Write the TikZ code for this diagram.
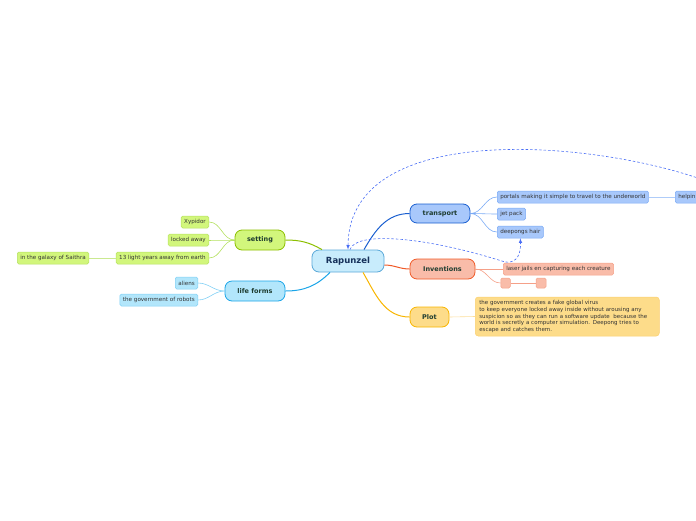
\documentclass[tikz,border=0pt]{standalone}
\usepackage{fontspec}
\setmainfont{DejaVu Sans}

\definecolor{rootfill}{HTML}{C8ECFC}
\definecolor{rootline}{HTML}{5AA8D8}
\definecolor{rootText}{HTML}{15305A}
\definecolor{topicText}{HTML}{1E3C30}
\definecolor{subText}{HTML}{333333}
\definecolor{transFill}{HTML}{A8C8FB}
\definecolor{transLine}{HTML}{1A5FD0}
\definecolor{transTwig}{HTML}{7AAAF5}
\definecolor{invFill}{HTML}{F9BCA9}
\definecolor{invLine}{HTML}{F05A28}
\definecolor{invTwig}{HTML}{F5A088}
\definecolor{plotFill}{HTML}{FDDC8A}
\definecolor{plotLine}{HTML}{F8B500}
\definecolor{plotTwig}{HTML}{FBD070}
\definecolor{setFill}{HTML}{D2F67C}
\definecolor{setLine}{HTML}{8CBF00}
\definecolor{setTwig}{HTML}{B4E060}
\definecolor{lifeFill}{HTML}{B2E6FB}
\definecolor{lifeLine}{HTML}{1AA5E8}
\definecolor{lifeTwig}{HTML}{80D0F5}
\definecolor{relLine}{HTML}{4A6EF5}

\begin{document}
\begin{tikzpicture}[>=latex,x=1pt,y=-1pt,
  topic/.style={draw,line width=.8pt,rounded corners=7pt,inner sep=0pt,
    font=\fontsize{6.5}{7}\selectfont\bfseries,text=topicText,minimum height=20pt},
  sub/.style={draw,line width=.5pt,rounded corners=1.5pt,inner xsep=3pt,inner ysep=0pt,
    font=\fontsize{5.6}{6}\selectfont,text=subText,minimum height=12pt},
  branch/.style={line width=1pt},
  twig/.style={line width=.6pt},
  relation/.style={relLine,line width=.6pt,dash pattern=on 2.5pt off 2pt}]
\useasboundingbox (0,0) rectangle (696,520);
\clip (0,0) rectangle (696,520);

\node[topic,fill=rootfill,draw=rootline,text=rootText,minimum width=72pt,minimum height=22pt,
  font=\fontsize{8.5}{9}\selectfont\bfseries] at (348,261) (Rapunzel) {Rapunzel};

\node[topic,fill=transFill,draw=transLine,minimum width=60pt,minimum height=19pt] at (440,213.5) (transport) {transport};
\node[topic,fill=invFill,draw=invLine,minimum width=65pt] at (442.5,269) (inventions) {Inventions};
\node[topic,fill=plotFill,draw=plotLine,minimum width=39pt] at (429.5,317) (plot) {Plot};
\node[topic,fill=setFill,draw=setLine,minimum width=50pt] at (260,240) (setting) {setting};
\node[topic,fill=lifeFill,draw=lifeLine,minimum width=60pt] at (255,291) (lifeforms) {life forms};

\node[sub,fill=transFill,draw=transTwig,anchor=west] at (497,197) (portals) {portals making it simple to travel to the underworld};
\node[sub,fill=transFill,draw=transTwig,anchor=west,minimum width=60pt,align=left,text width=54pt] at (675,197) (helpin) {helpin};
\node[sub,fill=transFill,draw=transTwig,anchor=west] at (497,214) (jetpack) {jet pack};
\node[sub,fill=transFill,draw=transTwig,anchor=west] at (497,232) (deepongs) {deepongs hair};

\node[sub,fill=invFill,draw=invTwig,anchor=west] at (503,269) (laser) {laser jails en capturing each creature};
\node[sub,fill=invFill,draw=invTwig,minimum width=9.5pt,minimum height=10pt] at (505.5,283) (blankA) {};
\node[sub,fill=invFill,draw=invTwig,minimum width=10pt,minimum height=10pt] at (541,283) (blankB) {};

\node[sub,fill=plotFill,draw=plotTwig,anchor=west,rounded corners=3pt,align=left,text width=176pt,
  inner xsep=4pt,minimum height=39pt,font=\fontsize{5.5}{6.7}\selectfont] at (475,316.5) (plotText)
  {the government creates a fake global virus\\
   to keep everyone locked away inside without arousing any\\
   suspicion so as they can run a software update\ \ because the\\
   world is secretly a computer simulation. Deepong tries to\\
   escape and catches them.};

\node[sub,fill=setFill,draw=setTwig,anchor=east] at (209,222) (xypidor) {Xypidor};
\node[sub,fill=setFill,draw=setTwig,anchor=east] at (209,240) (lockedaway) {locked away};
\node[sub,fill=setFill,draw=setTwig,anchor=east] at (209,258) (lightyears) {13 light years away from earth};
\node[sub,fill=setFill,draw=setTwig,anchor=east] at (89,258) (saithra) {in the galaxy of Saithra};

\node[sub,fill=lifeFill,draw=lifeTwig,anchor=east] at (198,283) (aliens) {aliens};
\node[sub,fill=lifeFill,draw=lifeTwig,anchor=east] at (198,300) (robots) {the government of robots};

\draw[branch,transLine] ([xshift=16pt]Rapunzel.north) to[out=60,in=180] (transport.west);
\draw[branch,invLine] ([yshift=-4pt]Rapunzel.east) to[out=0,in=180] (inventions.west);
\draw[branch,plotLine] ([xshift=15pt]Rapunzel.south) to[out=-60,in=180] (plot.west);
\draw[branch,setLine] ([xshift=-26pt]Rapunzel.north) to[out=150,in=0] (setting.east);
\draw[branch,lifeLine] ([xshift=-18pt]Rapunzel.south) to[out=-135,in=0] (lifeforms.east);

\foreach \n in {portals,jetpack,deepongs}
  \draw[twig,transTwig] (transport.east) to[out=0,in=180] (\n.west);
\draw[twig,transTwig!60] (portals.east) -- (helpin.west);

\draw[twig,invTwig] (inventions.east) -- (laser.west);
\draw[twig,invTwig] (inventions.east) to[out=0,in=180] (blankA.west);
\draw[twig,invTwig] (blankA.east) -- (blankB.west);

\draw[twig,plotTwig!70] (plot.east) -- (plotText.west);

\foreach \n in {xypidor,lockedaway,lightyears}
  \draw[twig,setTwig] (setting.west) to[out=180,in=0] (\n.east);
\draw[twig,setTwig!70] (lightyears.west) -- (saithra.east);

\foreach \n in {aliens,robots}
  \draw[twig,lifeTwig] (lifeforms.west) to[out=180,in=0] (\n.east);

\coordinate (helpinTop) at (745,200);
\draw[relation,->] (helpinTop) .. controls (675,150) and (349,100) .. (Rapunzel.north);
\draw[relation,->] ([xshift=2pt]Rapunzel.north) .. controls (355,232) and (420,235) .. (505,262)
  .. controls (518,264) and (521,252) .. (deepongs.south);
\end{tikzpicture}
\end{document}
